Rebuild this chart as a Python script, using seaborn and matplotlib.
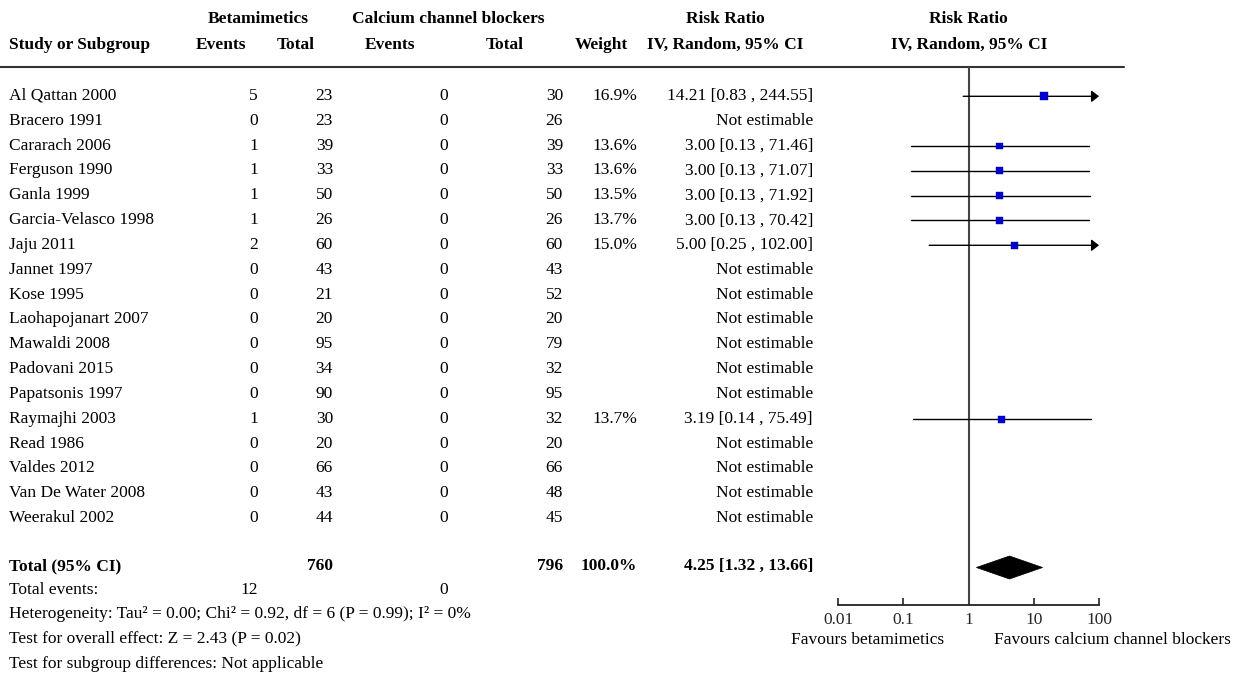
import numpy as np
import pandas as pd
import matplotlib
matplotlib.use("Agg")
import matplotlib.pyplot as plt
from matplotlib.patches import Polygon
import seaborn as sns

# ---------------- data ----------------
studies = ["Al Qattan 2000", "Bracero 1991", "Cararach 2006", "Ferguson 1990", "Ganla 1999",
           "Garcia-Velasco 1998", "Jaju 2011", "Jannet 1997", "Kose 1995", "Laohapojanart 2007",
           "Mawaldi 2008", "Padovani 2015", "Papatsonis 1997", "Raymajhi 2003", "Read 1986",
           "Valdes 2012", "Van De Water 2008", "Weerakul 2002"]
beta_events = [5, 0, 1, 1, 1, 1, 2, 0, 0, 0, 0, 0, 0, 1, 0, 0, 0, 0]
beta_total = [23, 23, 39, 33, 50, 26, 60, 43, 21, 20, 95, 34, 90, 30, 20, 66, 43, 44]
ccb_events = [0] * 18
ccb_total = [30, 26, 39, 33, 50, 26, 60, 43, 52, 20, 79, 32, 95, 32, 20, 66, 48, 45]
weights = [16.9, None, 13.6, 13.6, 13.5, 13.7, 15.0, None, None, None, None, None, None, 13.7,
           None, None, None, None]
rr = [14.21, None, 3.00, 3.00, 3.00, 3.00, 5.00, None, None, None, None, None, None, 3.19,
      None, None, None, None]
rr_lo = [0.83, None, 0.13, 0.13, 0.13, 0.13, 0.25, None, None, None, None, None, None, 0.14,
         None, None, None, None]
rr_hi = [244.55, None, 71.46, 71.07, 71.92, 70.42, 102.00, None, None, None, None, None, None, 75.49,
         None, None, None, None]
total_beta = 760
total_ccb = 796
total_weight = "100.0%"
total_rr, total_lo, total_hi = 4.25, 1.32, 13.66
total_events_beta, total_events_ccb = 12, 0
footer = ["Heterogeneity: Tau\u00b2 = 0.00; Chi\u00b2 = 0.92, df = 6 (P = 0.99); I\u00b2 = 0%",
          "Test for overall effect: Z = 2.43 (P = 0.02)",
          "Test for subgroup differences: Not applicable"]
ticks = [0.01, 0.1, 1, 10, 100]
tick_labels = ["0.01", "0.1", "1", "10", "100"]
favours_left = "Favours betamimetics"
favours_right = "Favours calcium channel blockers"

# ---------------- style ----------------
sns.set_theme(style="white")
plt.rcParams['font.family'] = ['Liberation Serif', 'DejaVu Serif']
FS = 12.5
W, H = 1235, 675
fig = plt.figure(figsize=(W / 100, H / 100), dpi=100)

tax = fig.add_axes([0, 0, 1, 1])
tax.set_xlim(0, W)
tax.set_ylim(H, 0)
tax.axis("off")

def txt(x, y, s, ha="left", bold=False):
    tax.text(x, y, s, ha=ha, va="baseline", fontsize=FS,
             fontweight="bold" if bold else "normal", color="black")

# headers
for x, s in [(258, "Betamimetics"), (448, "Calcium channel blockers"),
             (725, "Risk Ratio"), (968, "Risk Ratio")]:
    txt(x, 23, s, ha="center", bold=True)
txt(9, 49, "Study or Subgroup", bold=True)
for x, s in [(221, "Events"), (296, "Total"), (390, "Events"), (505, "Total"),
             (601, "Weight"), (725, "IV, Random, 95% CI"), (969, "IV, Random, 95% CI")]:
    txt(x, 49, s, ha="center", bold=True)
tax.plot([0, 1124], [67, 67], color="#333333", lw=1.5)

# study rows
row_base = [100 + 24.83 * i for i in range(len(studies))]
for i, name in enumerate(studies):
    b = row_base[i]
    txt(9, b, name)
    txt(258, b, str(beta_events[i]), ha="right")
    txt(333, b, str(beta_total[i]), ha="right")
    txt(448, b, str(ccb_events[i]), ha="right")
    txt(563, b, str(ccb_total[i]), ha="right")
    if weights[i] is not None:
        txt(637, b, f"{weights[i]:.1f}%", ha="right")
        txt(813, b, f"{rr[i]:.2f} [{rr_lo[i]:.2f} , {rr_hi[i]:.2f}]", ha="right")
    else:
        txt(813, b, "Not estimable", ha="right")

# total rows
tb = 570
txt(9, tb, "Total (95% CI)", bold=True)
txt(333, tb, str(total_beta), ha="right", bold=True)
txt(563, tb, str(total_ccb), ha="right", bold=True)
txt(637, tb, total_weight, ha="right", bold=True)
txt(813, tb, f"{total_rr:.2f} [{total_lo:.2f} , {total_hi:.2f}]", ha="right", bold=True)
txt(9, 594, "Total events:")
txt(258, 594, str(total_events_beta), ha="right")
txt(448, 594, str(total_events_ccb), ha="right")
for k, s in enumerate(footer):
    txt(9, 618 + 24.8 * k, s)

txt(944, 644, favours_left, ha="right")
txt(994, 644, favours_right, ha="left")

# ---------------- forest axes ----------------
x0, x1 = 838, 1099
y_top, y_bot = 67, 605
fax = fig.add_axes([x0 / W, (H - y_bot) / H, (x1 - x0) / W, (y_bot - y_top) / H])
fax.set_xscale("log")
fax.patch.set_alpha(0)
for sp in ["top", "left", "right"]:
    fax.spines[sp].set_visible(False)
fax.spines["bottom"].set_color("#222222")
fax.spines["bottom"].set_linewidth(1.3)
fax.axvline(1, color="#444444", lw=1.5, zorder=1)

df = pd.DataFrame({"study": studies, "rr": rr, "lo": rr_lo, "hi": rr_hi, "w": weights,
                   "y": [b - 3.7 for b in row_base]}).dropna()
xmax = ticks[-1]
for _, r in df.iterrows():
    if r.hi > xmax:
        fax.annotate("", xy=(xmax, r.y), xytext=(r.lo, r.y),
                     arrowprops=dict(arrowstyle="-|>,head_length=0.45,head_width=0.35",
                                     mutation_scale=10, color="black", lw=1.0,
                                     shrinkA=0, shrinkB=0), zorder=2)
    else:
        fax.plot([r.lo, r.hi], [r.y, r.y], color="black", lw=1.0, zorder=2)
df["size"] = (1.85 * np.sqrt(df["w"]) * 0.72) ** 2
sns.scatterplot(data=df, x="rr", y="y", size="size", sizes=(df["size"].min(), df["size"].max()),
                marker="s", color="#0000C8", edgecolor="#0000C8", linewidth=0.3,
                legend=False, ax=fax, zorder=3)
fax.set_xlabel("")
fax.set_ylabel("")
fax.set_xlim(ticks[0], ticks[-1])
fax.set_ylim(y_bot, y_top)
fax.set_yticks([])
fax.set_xticks(ticks)
fax.set_xticklabels(tick_labels, fontsize=FS)
fax.minorticks_off()
fax.tick_params(axis="x", bottom=True, direction="in", length=5, width=1.2,
                color="#222222", pad=5)

dy = 11.5
yc = tb - 2.5
fax.add_patch(Polygon([(total_lo, yc), (total_rr, yc - dy), (total_hi, yc), (total_rr, yc + dy)],
                      closed=True, facecolor="black", edgecolor="black", lw=0.5, zorder=3))

fig.savefig("out.png", dpi=100)
